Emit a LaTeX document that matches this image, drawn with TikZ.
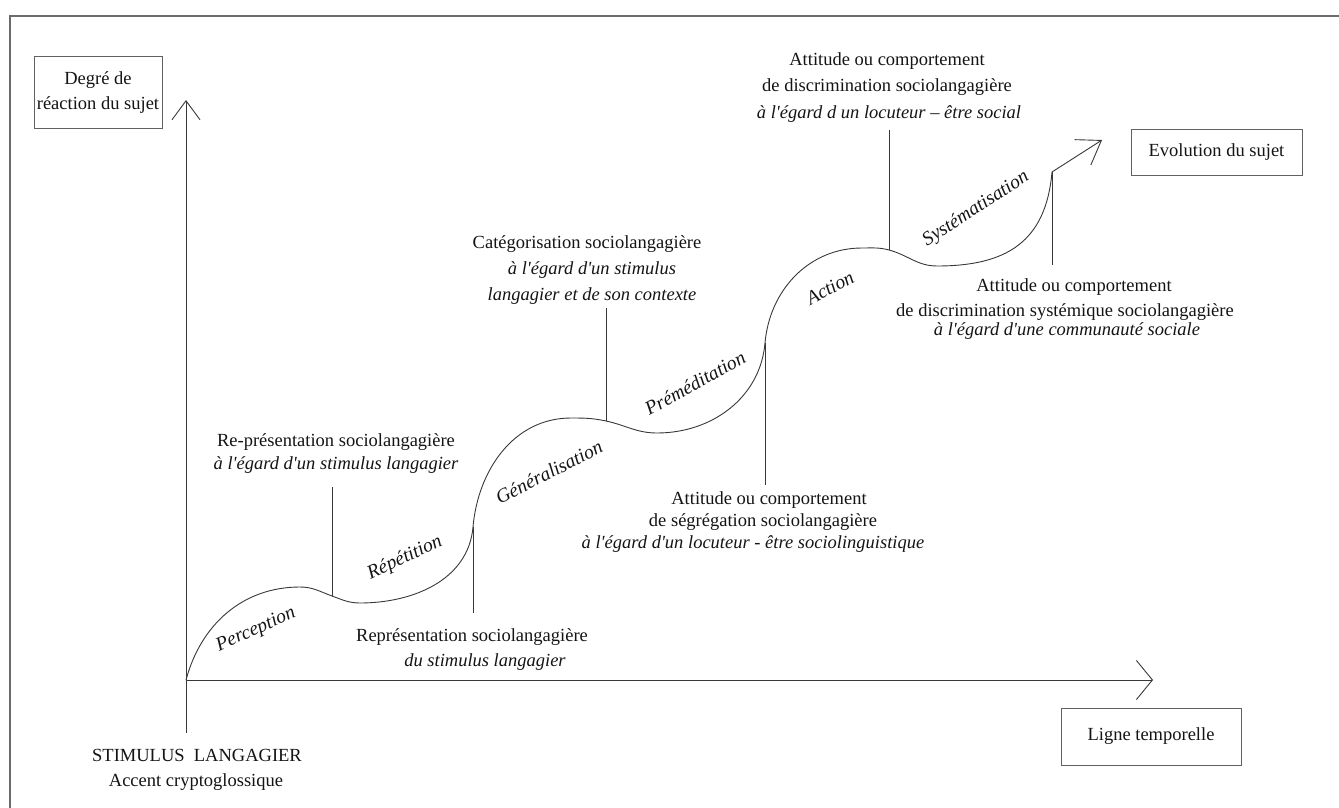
\documentclass[tikz,border=0pt]{standalone}
\usepackage{fontspec}
\setmainfont{Liberation Serif}[Ligatures=TeXOff]
\usetikzlibrary{arrows.meta}
\begin{document}
\begin{tikzpicture}[x=1pt,y=1pt,
  ln/.style={draw=black!78, line width=0.9pt},
  frm/.style={draw=black!58, line width=1.4pt},
  lbl/.style={font=\fontsize{18.5}{24}\selectfont, anchor=base, inner sep=0pt, text=black!92},
  ilbl/.style={lbl, font=\fontsize{18.5}{24}\selectfont\itshape},
  phase/.style={font=\fontsize{19.5}{24}\selectfont\itshape, inner sep=0pt, text=black!92},
  boxn/.style={draw=black!62, line width=1pt, font=\fontsize{18.5}{25}\selectfont, align=center, inner sep=0pt, text=black!92},
  barb/.style={-{Straight Barb[length=#1]}},
]
\useasboundingbox (0,0) rectangle (1339,-808);
% frame
\coordinate (F1) at (10,-808);
\coordinate (F2) at (10,-16);
\coordinate (F3) at (1339,-16);
\draw[frm] (F1) -- (F2) -- (F3);

% axes
\coordinate (O) at (186,-680);
\coordinate (Ytip) at (186,-100);
\coordinate (Ybot) at (186,-733);
\coordinate (Xtip) at (1153,-680);
\draw[ln, -{Straight Barb[length=19pt,width=28pt]}] (Ybot) -- (Ytip);
\draw[ln, -{Straight Barb[length=16pt,width=39pt]}] (O) -- (Xtip);

% curve points
\coordinate (Pk1) at (300,-587);
\coordinate (Q1) at (332,-596);
\coordinate (M1) at (360,-603);
\coordinate (R1) at (473,-527);
\coordinate (Pk2) at (571,-418);
\coordinate (Q2) at (606,-421);
\coordinate (M2) at (657,-433);
\coordinate (R2) at (765,-343);
\coordinate (Pk3) at (862,-248);
\coordinate (Q3) at (889,-250);
\coordinate (M3) at (937,-266);
\coordinate (R3) at (1052,-172);
\coordinate (Etip) at (1102,-140);

\draw[ln] (O) to[out=75,in=180] (Pk1) to[out=0,in=160] (Q1) to[out=-20,in=180] (M1)
  to[out=0,in=-95] (R1) to[out=85,in=180] (Pk2) to[out=0,in=168] (Q2) to[out=-12,in=180] (M2)
  to[out=0,in=-95] (R2) to[out=85,in=180] (Pk3) to[out=0,in=165] (Q3) to[out=-15,in=180] (M3)
  to[out=0,in=-95,looseness=1.2] (R3);
\draw[ln, -{Straight Barb[length=22pt,width=30pt]}] (R3) -- (Etip);

% vertical connectors
\coordinate (V1) at (332,-487);
\coordinate (V2) at (473,-613);
\coordinate (V3) at (606,-308);
\coordinate (V4) at (765,-485);
\coordinate (V5) at (889,-130);
\coordinate (V6) at (1052,-265);
\draw[ln] (V1) -- (Q1);
\draw[ln] (R1) -- (V2);
\draw[ln] (V3) -- (Q2);
\draw[ln] (R2) -- (V4);
\draw[ln] (V5) -- (Q3);
\draw[ln] (R3) -- (V6);

% boxes
\node[boxn, minimum width=128pt, minimum height=71pt] (deg) at (98,-92.5) {Degré de\\réaction du sujet};
\node[boxn, minimum width=171pt, minimum height=46pt] (evo) at (1216.5,-152) {Evolution du sujet};
\node[boxn, minimum width=180pt, minimum height=57pt] (lig) at (1151,-736.5) {Ligne temporelle};

% phase labels
\node[phase, rotate=24] (ph1) at (256,-630) {Perception};
\node[phase, rotate=25] (ph2) at (405,-558) {Répétition};
\node[phase, rotate=27] (ph3) at (549,-472) {Généralisation};
\node[phase, rotate=29] (ph4) at (695,-383) {Préméditation};
\node[phase, rotate=28] (ph5) at (830,-288) {Action};
\node[phase, rotate=33] (ph6) at (976,-209) {Systématisation};

% block 1
\node[lbl] (b1a) at (336,-446) {Re-présentation sociolangagière};
\node[ilbl] (b1b) at (336,-469) {à l'égard d'un stimulus langagier};
% block 2
\node[lbl] (b2a) at (472,-641) {Représentation sociolangagière};
\node[ilbl] (b2b) at (485,-666) {du stimulus langagier};
% block 3
\node[lbl] (b3a) at (587,-248) {Catégorisation sociolangagière};
\node[ilbl] (b3b) at (592,-274) {à l'égard d'un stimulus};
\node[ilbl] (b3c) at (592,-300) {langagier et de son contexte};
% block 4
\node[lbl] (b4a) at (887,-66) {Attitude ou comportement};
\node[lbl] (b4b) at (887,-92) {de discrimination sociolangagière};
\node[ilbl] (b4c) at (889,-118) {à l'égard d un locuteur – être social};
% block 5
\node[lbl] (b5a) at (1074,-291) {Attitude ou comportement};
\node[lbl] (b5b) at (1065,-316) {de discrimination systémique sociolangagière};
\node[ilbl] (b5c) at (1067,-335) {à l'égard d'une communauté sociale};
% block 6
\node[lbl] (b6a) at (769,-504) {Attitude ou comportement};
\node[lbl] (b6b) at (763,-526) {de ségrégation sociolangagière};
\node[ilbl] (b6c) at (753,-548) {à l'égard d'un locuteur - être sociolinguistique};
% stimulus
\node[lbl] (st1) at (197,-761) {STIMULUS\ \ LANGAGIER};
\node[lbl] (st2) at (196,-786) {Accent cryptoglossique};
\end{tikzpicture}
\end{document}
